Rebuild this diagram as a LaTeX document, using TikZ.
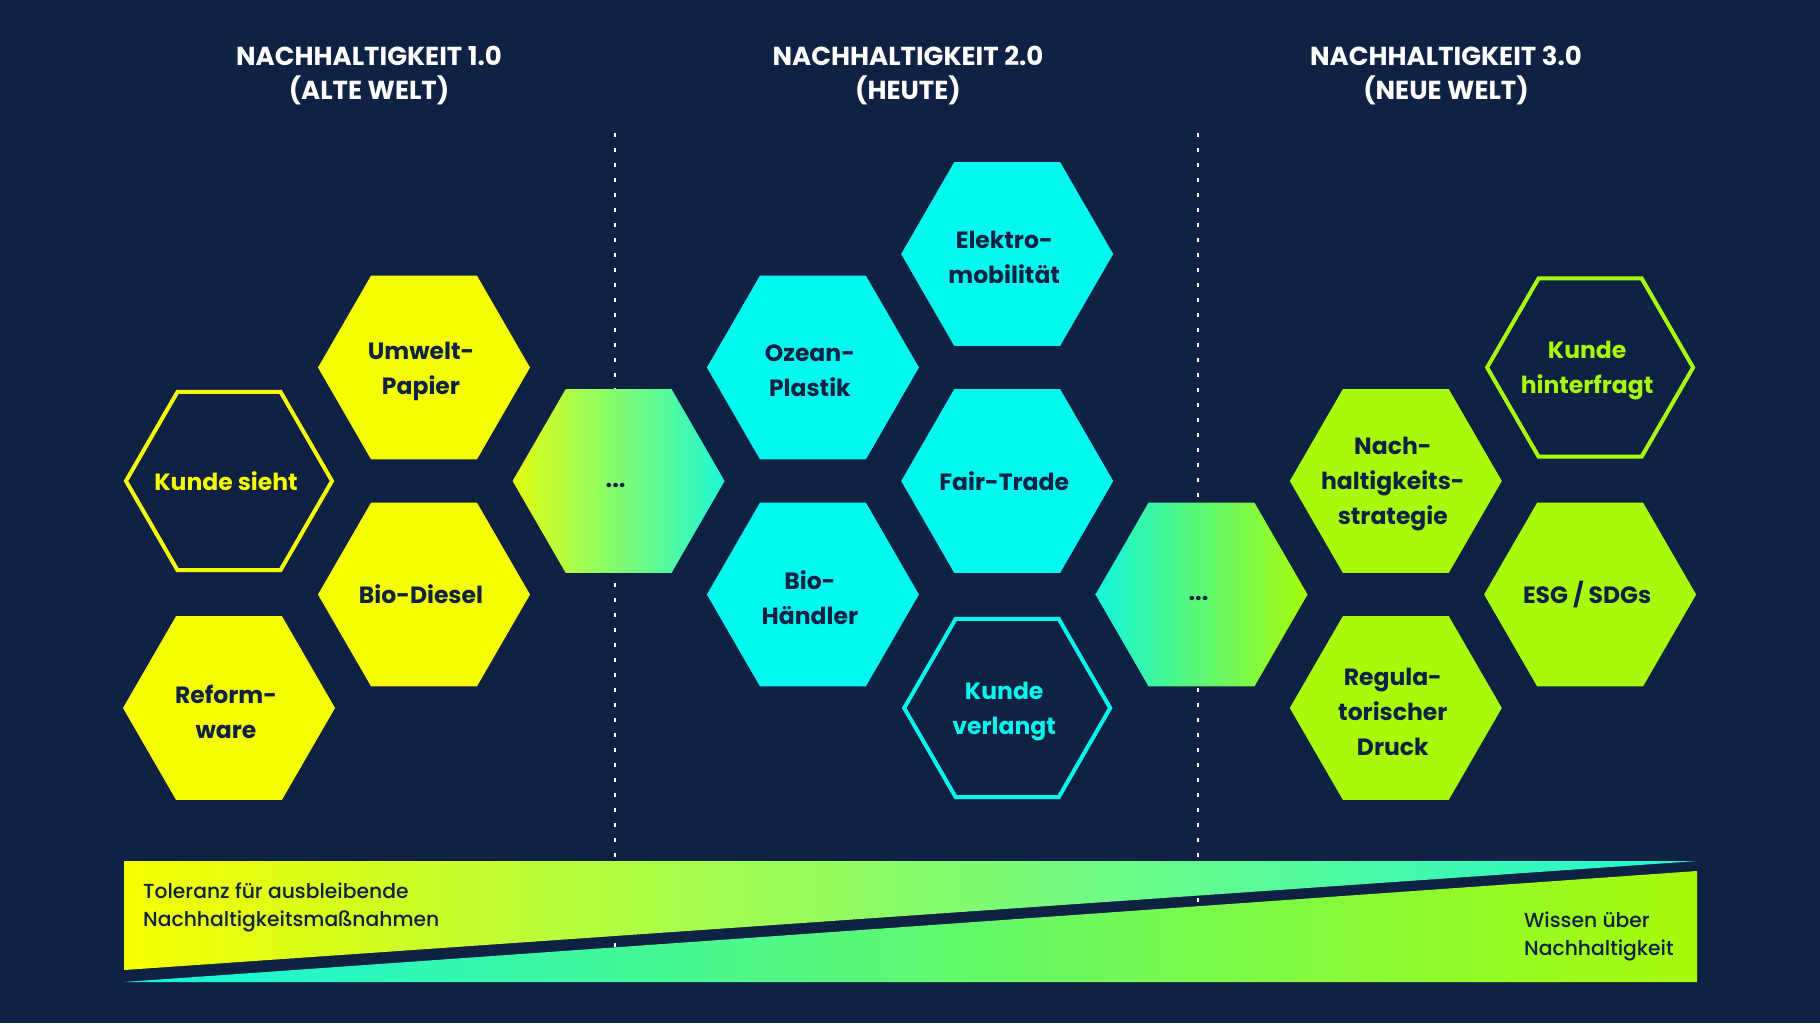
\documentclass[tikz,border=0pt]{standalone}
\usepackage{fontspec}
\setmainfont{Poppins}
\IfFontExistsTF{Poppins Medium}{\newfontfamily\fmed{Poppins Medium}}{\newfontfamily\fmed{Poppins}}
\definecolor{navy}{HTML}{0F2244}
\definecolor{hyel}{HTML}{F5FF00}
\definecolor{hcyan}{HTML}{00F8EE}
\definecolor{hlime}{HTML}{A8FA0A}
\definecolor{gcyan}{HTML}{1EF8D4}
\definecolor{gcyanb}{HTML}{14F6DC}
\newcommand\hexp[3]{(#1,#2) ++(0:#3) -- ++(120:#3) -- ++(180:#3) -- ++(240:#3) -- ++(300:#3) -- ++(0:#3) -- cycle}
\tikzset{
  hextext/.style={font=\bfseries\fontsize{23.5}{35}\selectfont, align=center, inner sep=0pt, text=navy},
  ml/.style={yshift=-3.5pt},
  headtext/.style={font=\bfseries\fontsize{26}{34}\selectfont, align=center, inner sep=0pt, text=white},
  bartext/.style={font=\fmed\fontsize{20.3}{28}\selectfont, align=left, inner sep=0pt, text=navy, anchor=west},
  divider/.style={white, line width=2pt, dash pattern=on 4pt off 11pt},
  outl/.style={line width=4pt}
}
\begin{document}
\begin{tikzpicture}[x=1pt,y=-1pt]
\useasboundingbox (0,0) rectangle (1820,1023);
\fill[navy] (0,0) rectangle (1820,1023);
% headers
\node[headtext] (h1) at (369,76) {NACHHALTIGKEIT 1.0\\(ALTE WELT)};
\node[headtext] (h2) at (908,76) {NACHHALTIGKEIT 2.0\\(HEUTE)};
\node[headtext] (h3) at (1446,76) {NACHHALTIGKEIT 3.0\\(NEUE WELT)};
% dividers
\coordinate (d1t) at (615,133);
\coordinate (d1b) at (615,978);
\coordinate (d2t) at (1198,133);
\coordinate (d2b) at (1198,978);
\draw[divider] (d1t) -- (d1b);
\draw[divider] (d2t) -- (d2b);
% bottom bar
\shade[left color=hyel, right color=gcyan] (124,861) -- (1697,861) -- (124,970) -- cycle;
\shade[left color=gcyanb, right color=hlime] (124,982) -- (1697,982) -- (1697,871) -- cycle;
\node[bartext] (tol) at (143,907.5) {Toleranz für ausbleibende\\Nachhaltigkeitsmaßnahmen};
\node[bartext] (wis) at (1524,936.5) {Wissen über\\Nachhaltigkeit};
% column 1 (yellow)
\draw[hyel, outl] \hexp{229}{481}{103};
\node[hextext, text=hyel] (ks) at (226,481) {Kunde sieht};
\fill[hyel] \hexp{229}{708}{106};
\node[hextext, ml] (rw) at (226,708) {Reform-\\ware};
\fill[hyel] \hexp{424}{367.5}{106};
\node[hextext, ml] (up) at (421,367.5) {Umwelt-\\Papier};
\fill[hyel] \hexp{424}{594.5}{106};
\node[hextext] (bd) at (421,594.5) {Bio-Diesel};
% transition 1
\shade[left color=hyel!92!gcyan, right color=gcyan] \hexp{618.6}{481}{106};
\node[hextext] (t1) at (615.6,485) {...};
% column 2 (cyan)
\fill[hcyan] \hexp{812.9}{367.5}{106};
\node[hextext, ml] (op) at (809.9,367.5) {Ozean-\\Plastik};
\fill[hcyan] \hexp{812.9}{594.5}{106};
\node[hextext, ml] (bh) at (809.9,594.5) {Bio-\\Händler};
\fill[hcyan] \hexp{1007.2}{254}{106};
\node[hextext, ml] (em) at (1004.2,254) {Elektro-\\mobilität};
\fill[hcyan] \hexp{1007.2}{481}{106};
\node[hextext] (ft) at (1004.2,481) {Fair-Trade};
\draw[hcyan, outl] \hexp{1007.2}{708}{103};
\node[hextext, ml, text=hcyan] (kv) at (1004.2,708) {Kunde\\verlangt};
% transition 2
\shade[left color=gcyanb, right color=hlime] \hexp{1201.5}{594.5}{106};
\node[hextext] (t2) at (1198.5,598.5) {...};
% column 3 (lime)
\fill[hlime] \hexp{1395.8}{481}{106};
\node[hextext, ml] (ns) at (1392.8,481) {Nach-\\haltigkeits-\\strategie};
\fill[hlime] \hexp{1395.8}{708}{106};
\node[hextext, ml] (rd) at (1392.8,708) {Regula-\\torischer\\Druck};
\draw[hlime, outl] \hexp{1590.1}{367.5}{103};
\node[hextext, ml, text=hlime] (kh) at (1587.1,367.5) {Kunde\\hinterfragt};
\fill[hlime] \hexp{1590.1}{594.5}{106};
\node[hextext] (esg) at (1587.1,594.5) {ESG / SDGs};
\end{tikzpicture}
\end{document}
